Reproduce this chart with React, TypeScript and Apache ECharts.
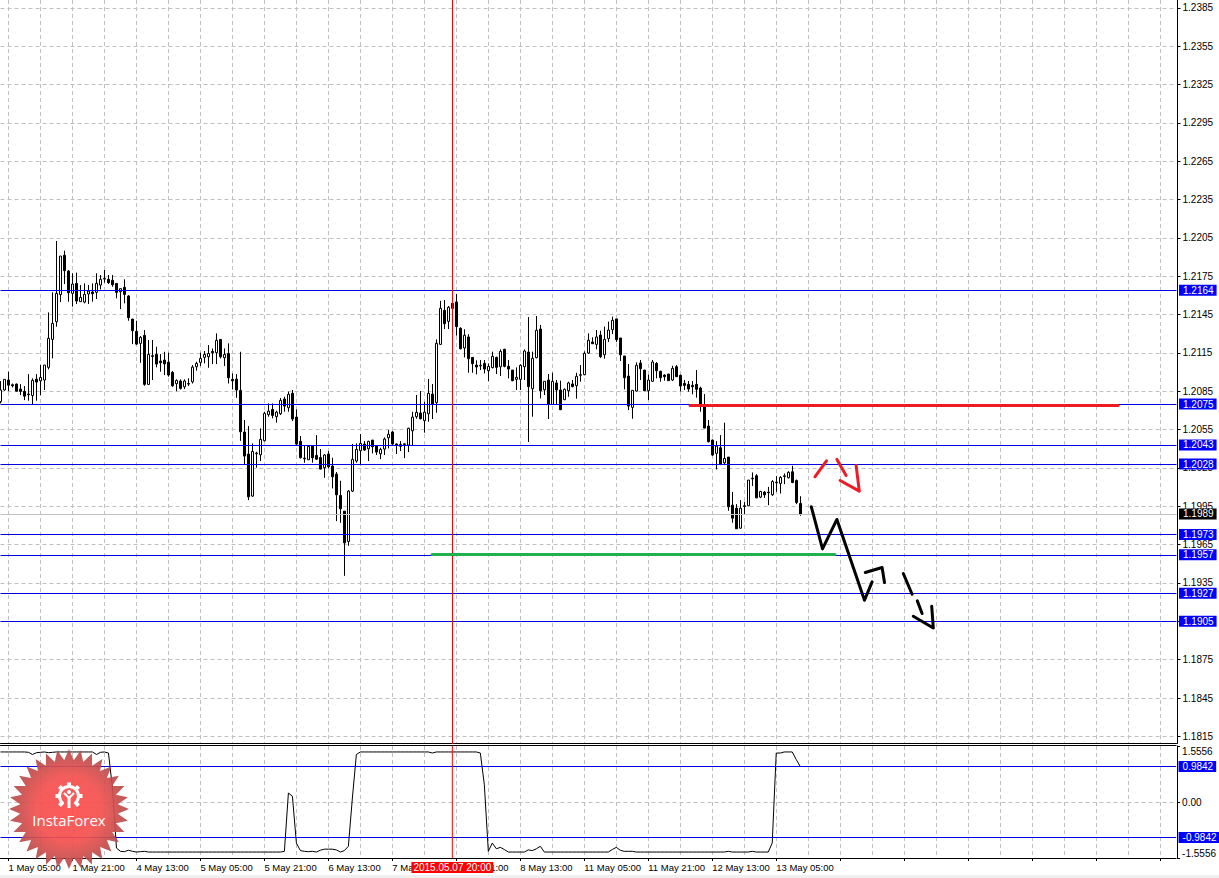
import React, { useEffect, useRef } from "react";
import * as echarts from "echarts";

// [open, close, low, high] of each hourly bar
const candles: number[][] = [
[1.20768,1.20860,1.20755,1.20930],[1.20860,1.20943,1.20854,1.20943],[1.20938,1.20898,1.20851,1.21003],[1.20901,1.20893,1.20880,1.20911],[1.20906,1.20851,1.20849,1.20911],
[1.20867,1.20849,1.20820,1.20906],[1.20849,1.20812,1.20781,1.20891],[1.20828,1.20823,1.20776,1.20984],[1.20817,1.20935,1.20750,1.20951],[1.20945,1.20922,1.20776,1.20984],
[1.20932,1.20958,1.20820,1.21055],[1.20938,1.21055,1.20860,1.21055],[1.21037,1.21264,1.21021,1.21467],[1.21256,1.21381,1.21107,1.21624],[1.21394,1.21616,1.21355,1.22026],
[1.21606,1.21908,1.21548,1.21908],[1.21914,1.21794,1.21689,1.21950],[1.21791,1.21621,1.21551,1.21799],[1.21616,1.21689,1.21512,1.21773],[1.21694,1.21556,1.21533,1.21778],
[1.21551,1.21585,1.21551,1.21681],[1.21548,1.21608,1.21538,1.21694],[1.21611,1.21634,1.21533,1.21681],[1.21627,1.21613,1.21551,1.21694],[1.21624,1.21694,1.21572,1.21773],
[1.21681,1.21726,1.21647,1.21760],[1.21728,1.21734,1.21700,1.21799],[1.21726,1.21700,1.21689,1.21760],[1.21718,1.21684,1.21668,1.21760],[1.21694,1.21624,1.21577,1.21694],
[1.21629,1.21653,1.21493,1.21655],[1.21663,1.21608,1.21538,1.21726],[1.21595,1.21426,1.21402,1.21603],[1.21415,1.21324,1.21219,1.21415],[1.21319,1.21219,1.21212,1.21402],
[1.21225,1.21272,1.21073,1.21282],[1.21287,1.20904,1.20893,1.21329],[1.20904,1.21138,1.20898,1.21251],[1.21128,1.21123,1.20938,1.21251],[1.21138,1.21063,1.21037,1.21198],
[1.21086,1.21073,1.21003,1.21141],[1.21094,1.21065,1.20977,1.21159],[1.21078,1.20977,1.20964,1.21152],[1.20998,1.20893,1.20885,1.21008],[1.20909,1.20935,1.20851,1.20943],
[1.20930,1.20872,1.20864,1.20943],[1.20885,1.20930,1.20867,1.20943],[1.20906,1.20911,1.20891,1.20951],[1.20924,1.21039,1.20911,1.21055],[1.21042,1.21068,1.21011,1.21081],
[1.21076,1.21107,1.21047,1.21152],[1.21115,1.21138,1.21068,1.21165],[1.21120,1.21146,1.21034,1.21212],[1.21162,1.21152,1.21063,1.21185],[1.21152,1.21248,1.21063,1.21303],
[1.21256,1.21120,1.21107,1.21256],[1.21112,1.21138,1.21047,1.21185],[1.21146,1.20956,1.20911,1.21225],[1.20943,1.20932,1.20864,1.20990],[1.20945,1.20860,1.20799,1.20984],
[1.20857,1.20533,1.20462,1.21159],[1.20531,1.20343,1.20280,1.20625],[1.20359,1.20024,1.19998,1.20578],[1.20030,1.20379,1.20024,1.20442],[1.20361,1.20366,1.20252,1.20377],
[1.20353,1.20473,1.20304,1.20560],[1.20463,1.20677,1.20458,1.20690],[1.20667,1.20695,1.20651,1.20755],[1.20708,1.20661,1.20638,1.20755],[1.20651,1.20687,1.20604,1.20698],
[1.20674,1.20779,1.20664,1.20797],[1.20789,1.20734,1.20690,1.20807],[1.20721,1.20826,1.20690,1.20847],[1.20834,1.20633,1.20617,1.20860],[1.20648,1.20437,1.20421,1.20708],
[1.20458,1.20330,1.20325,1.20500],[1.20327,1.20322,1.20291,1.20426],[1.20314,1.20419,1.20312,1.20424],[1.20421,1.20330,1.20291,1.20429],[1.20348,1.20319,1.20312,1.20507],
[1.20332,1.20241,1.20239,1.20398],[1.20252,1.20351,1.20173,1.20359],[1.20359,1.20259,1.20246,1.20382],[1.20265,1.20181,1.20090,1.20330],[1.20202,1.20040,1.19834,1.20218],
[1.20035,1.19931,1.19821,1.20150],[1.19912,1.19664,1.19406,1.19912],[1.19675,1.20069,1.19641,1.20077],[1.20069,1.20317,1.20061,1.20437],[1.20304,1.20395,1.20291,1.20442],
[1.20385,1.20442,1.20272,1.20515],[1.20437,1.20390,1.20385,1.20460],[1.20400,1.20458,1.20304,1.20463],[1.20468,1.20416,1.20364,1.20468],[1.20421,1.20374,1.20351,1.20429],
[1.20361,1.20395,1.20319,1.20408],[1.20398,1.20476,1.20351,1.20489],[1.20486,1.20513,1.20403,1.20546],[1.20531,1.20437,1.20432,1.20539],[1.20437,1.20429,1.20359,1.20442],
[1.20419,1.20434,1.20382,1.20460],[1.20434,1.20439,1.20327,1.20442],[1.20429,1.20560,1.20374,1.20565],[1.20541,1.20648,1.20429,1.20690],[1.20651,1.20685,1.20635,1.20821],
[1.20680,1.20635,1.20630,1.20852],[1.20620,1.20687,1.20526,1.20768],[1.20674,1.20834,1.20612,1.20946],[1.20828,1.20750,1.20633,1.20907],[1.20761,1.21225,1.20682,1.21256],
[1.21217,1.21499,1.21212,1.21557],[1.21483,1.21379,1.21337,1.21564],[1.21397,1.21507,1.21337,1.21517],[1.21538,1.21499,1.21499,1.21538],[1.21549,1.21356,1.21285,1.21611],
[1.21343,1.21183,1.21178,1.21350],[1.21189,1.21288,1.21115,1.21335],[1.21275,1.21105,1.20995,1.21296],[1.21115,1.21066,1.20995,1.21115],[1.21055,1.21040,1.20982,1.21092],
[1.21048,1.21053,1.21016,1.21095],[1.21068,1.21024,1.20990,1.21095],[1.21011,1.21045,1.20930,1.21068],[1.21035,1.21123,1.21029,1.21160],[1.21115,1.21037,1.20985,1.21121],
[1.21042,1.21162,1.20969,1.21178],[1.21178,1.21045,1.21037,1.21183],[1.21045,1.21024,1.20951,1.21095],[1.21016,1.20933,1.20928,1.21016],[1.20943,1.20959,1.20860,1.21037],
[1.20943,1.21053,1.20860,1.21061],[1.21042,1.21165,1.20938,1.21178],[1.21157,1.20886,1.20453,1.21431],[1.20870,1.21108,1.20651,1.21160],[1.21113,1.21327,1.21108,1.21439],
[1.21337,1.20854,1.20794,1.21369],[1.20862,1.20928,1.20821,1.20928],[1.20938,1.20747,1.20633,1.20985],[1.20747,1.20928,1.20742,1.20995],[1.20915,1.20860,1.20747,1.20938],
[1.20860,1.20706,1.20703,1.20933],[1.20784,1.20865,1.20781,1.20873],[1.20854,1.20915,1.20807,1.20925],[1.20907,1.20886,1.20881,1.20938],[1.20894,1.20967,1.20792,1.20995],
[1.20975,1.20980,1.20925,1.21055],[1.20980,1.21147,1.20975,1.21162],[1.21149,1.21249,1.21142,1.21303],[1.21236,1.21222,1.21220,1.21272],[1.21217,1.21275,1.21178,1.21329],
[1.21290,1.21121,1.21110,1.21324],[1.21136,1.21256,1.21105,1.21356],[1.21262,1.21329,1.21236,1.21395],[1.21332,1.21405,1.21298,1.21434],[1.21416,1.21254,1.21236,1.21416],
[1.21267,1.21136,1.21087,1.21267],[1.21126,1.20956,1.20865,1.21126],[1.20969,1.20734,1.20703,1.21063],[1.20724,1.20857,1.20635,1.20860],[1.20852,1.21053,1.20847,1.21076],
[1.21071,1.21027,1.20938,1.21095],[1.21016,1.20854,1.20852,1.21016],[1.20854,1.20938,1.20781,1.20980],[1.20928,1.21079,1.20925,1.21095],[1.21068,1.21011,1.20951,1.21079],
[1.21006,1.20956,1.20925,1.21011],[1.20977,1.20964,1.20933,1.20982],[1.20985,1.20933,1.20930,1.20985],[1.20938,1.21029,1.20930,1.21050],[1.21042,1.20964,1.20962,1.21055],
[1.20975,1.20891,1.20849,1.20980],[1.20912,1.20896,1.20860,1.20938],[1.20904,1.20868,1.20847,1.20930],[1.20896,1.20886,1.20826,1.20930],[1.20904,1.20865,1.20800,1.21016],
[1.20875,1.20750,1.20690,1.20886],[1.20734,1.20562,1.20560,1.20828],[1.20578,1.20455,1.20450,1.20625],[1.20468,1.20351,1.20343,1.20473],[1.20364,1.20421,1.20238,1.20460],
[1.20408,1.20280,1.20272,1.20507],[1.20290,1.20324,1.20272,1.20604],[1.20335,1.19946,1.19915,1.20335],[1.19959,1.19857,1.19821,1.20063],[1.19935,1.19774,1.19774,1.19967],
[1.19779,1.19935,1.19774,1.19998],[1.19954,1.19949,1.19888,1.19985],[1.19954,1.20155,1.19951,1.20155],[1.20170,1.20165,1.20108,1.20215],[1.20189,1.20016,1.20014,1.20202],
[1.20022,1.20066,1.20014,1.20071],[1.20061,1.20040,1.20016,1.20069],[1.20061,1.20056,1.19959,1.20102],[1.20040,1.20144,1.20032,1.20155],[1.20134,1.20139,1.20063,1.20186],
[1.20129,1.20176,1.20050,1.20186],[1.20183,1.20189,1.20123,1.20207],[1.20173,1.20215,1.20168,1.20225],[1.20220,1.20136,1.20131,1.20267],[1.20152,1.19980,1.19967,1.20160],
[1.19972,1.19890,1.19876,1.20029],
];

// Fisher-style oscillator of the lower window, one value per bar
const oscillator: number[] = [
1.39,1.39,1.39,1.39,1.39,1.39,1.39,1.38,1.32,1.37,
1.38,1.39,1.37,1.38,1.39,1.39,1.39,1.39,1.39,1.39,
1.39,1.39,1.39,1.39,1.32,1.38,1.39,1.36,0.39,-1.28,
-1.37,-1.38,-1.34,-1.37,-1.39,-1.38,-1.37,-1.39,-1.39,-1.39,
-1.39,-1.39,-1.39,-1.39,-1.39,-1.39,-1.39,-1.39,-1.39,-1.39,
-1.39,-1.39,-1.39,-1.39,-1.39,-1.39,-1.39,-1.39,-1.39,-1.39,
-1.39,-1.39,-1.39,-1.39,-1.39,-1.39,-1.39,-1.39,-1.39,-1.39,
-1.39,-1.37,0.25,0.16,-1.14,-1.35,-1.37,-1.38,-1.37,-1.39,
-1.34,-1.31,-1.31,-1.31,-1.33,-1.39,-1.35,-1.23,0.11,1.32,
1.39,1.39,1.39,1.39,1.39,1.39,1.39,1.39,1.39,1.39,
1.39,1.39,1.39,1.39,1.39,1.39,1.39,1.39,1.36,1.39,
1.39,1.39,1.39,1.39,1.39,1.39,1.39,1.39,1.39,1.39,
1.36,0.48,-1.37,-1.14,-1.30,-1.26,-1.32,-1.39,-1.39,-1.39,
-1.39,-1.39,-1.33,-1.35,-1.30,-1.23,-1.39,-1.39,-1.39,-1.39,
-1.39,-1.39,-1.39,-1.39,-1.39,-1.39,-1.39,-1.39,-1.39,-1.39,
-1.39,-1.39,-1.39,-1.32,-1.26,-1.34,-1.37,-1.37,-1.37,-1.39,
-1.39,-1.39,-1.39,-1.39,-1.39,-1.39,-1.39,-1.39,-1.39,-1.39,
-1.39,-1.39,-1.39,-1.39,-1.39,-1.39,-1.39,-1.39,-1.39,-1.39,
-1.39,-1.39,-1.37,-1.39,-1.39,-1.39,-1.39,-1.39,-1.37,-1.39,
-1.39,-1.39,-1.39,-1.14,1.36,1.36,1.39,1.39,1.39,1.18,
0.99,
];

const timeLabels = ["1 May 05:00","1 May 21:00","4 May 13:00","5 May 05:00","5 May 21:00","6 May 13:00","7 May 05:00","7 May 21:00","8 May 13:00","11 May 05:00","11 May 21:00","12 May 13:00","13 May 05:00"];
const priceTicks = [1.1815,1.1845,1.1875,1.1905,1.1935,1.1965,1.1995,1.2025,1.2055,1.2085,1.2115,1.2145,1.2175,1.2205,1.2235,1.2265,1.2295,1.2325,1.2355,1.2385];
const oscTicks = [-1.5556, 0, 1.5556];
const blueLevels = [1.2164,1.2075,1.2043,1.2028,1.1973,1.1957,1.1927,1.1905];
const oscLevels = [0.9842,-0.9842];
const lastPrice = 1.1989;
const crosshairBar = 113;
const crosshairLabel = "2015.05.07 20:00";

const redLevel = [[172.4,1.20739],[279.4,1.20739]];
const greenLevel = [[107.9,1.19573],[208.6,1.19573]];
const blackPath: number[][][] = [
  [[202.7,1.19946],[205.5,1.19617],[209.1,1.19847],[216,1.19215],[217.9,1.19359]],
  [[216.2,1.19432],[220.4,1.19471],[221,1.19353]],
  [[225.7,1.19424],[227.9,1.19262]],
  [[229.2,1.1921],[230.4,1.19111]],
  [[228.2,1.1909],[233.2,1.18998],[232.8,1.19168]],
];
const redPath: number[][][] = [
  [[203.6,1.20181],[206.5,1.20306]],
  [[209.1,1.20317],[211.4,1.20191]],
  [[209.9,1.20152],[214.7,1.20069],[213.9,1.2027]],
];

const barCount = 295;
const firstTick = 2;
const priceMin = 1.18094;
const priceMax = 1.239115;
const oscMax = 1.5556;
const categories = Array.from({ length: barCount }, (_, i) => {
  const k = (i - firstTick) / 16;
  return Number.isInteger(k) && timeLabels[k] ? timeLabels[k] : "";
});

const FONT = "Liberation Sans";
const GRID = { color: "#c0c0c0", width: 1, type: [4, 3] as number[] };

function levelLine(v: number, digits = 4, bg = "#0000ff", lineColor = "#0000e0") {
  return {
    yAxis: v,
    lineStyle: { color: lineColor, width: 1, type: "solid" },
    label: {
      show: true,
      position: "end",
      distance: 2.5,
      formatter: v.toFixed(digits),
      color: "#fff",
      backgroundColor: bg,
      fontFamily: FONT,
      fontSize: 10,
      lineHeight: 11,
      padding: [0, 3, 0, 4],
    },
  };
}

function starPoints(cx: number, cy: number, rOut: number, rIn: number, n: number) {
  const pts: number[][] = [];
  for (let i = 0; i < n * 2; i++) {
    const r = i % 2 ? rIn : rOut;
    const a = -Math.PI / 2 + (i * Math.PI) / n;
    pts.push([cx + r * Math.cos(a), cy + r * Math.sin(a)]);
  }
  return pts;
}

function badge() {
  const cx = 69, cy = 809, gx = 69, gy = 796;
  const teeth = Array.from({ length: 8 }, (_, k) => {
    const a = (k * Math.PI) / 4;
    return {
      type: "rect", x: gx, y: gy, rotation: a,
      shape: { x: -2, y: -13.5, width: 4, height: 5 },
      style: { fill: "#fff" }, z: 41,
    };
  });
  return [
    {
      type: "polygon",
      shape: { points: starPoints(cx, cy, 60, 49, 32) },
      style: {
        fill: new echarts.graphic.RadialGradient(0.5, 0.5, 0.5, [
          { offset: 0, color: "#ff4a4a" },
          { offset: 0.55, color: "#f2504e" },
          { offset: 1, color: "#b04c4c" },
        ]),
        opacity: 0.92,
      },
      z: 40,
    },
    { type: "arc", shape: { cx: gx, cy: gy, r: 9.5, startAngle: Math.PI * 0.72, endAngle: Math.PI * 0.28, clockwise: true }, style: { stroke: "#fff", lineWidth: 3, fill: "none" }, z: 41 },
    ...teeth.filter((_, k) => k !== 4),
    { type: "polyline", shape: { points: [[gx - 5, gy - 3], [gx, gy + 2], [gx + 5, gy - 3]] }, style: { stroke: "#fff", lineWidth: 2.2, fill: "none" }, z: 41 },
    { type: "circle", shape: { cx: gx, cy: gy - 4, r: 2 }, style: { fill: "#fff" }, z: 41 },
    { type: "rect", shape: { x: gx - 1.5, y: gy + 1, width: 3, height: 11 }, style: { fill: "#fff" }, z: 41 },
    {
      type: "text", x: cx, y: 820,
      style: { text: "InstaForex", fill: "#fff", font: "15px 'Open Sans'", align: "center", verticalAlign: "middle" },
      z: 41,
    },
    { type: "rect", shape: { x: 0, y: 875, width: 1219, height: 3 }, style: { fill: "#f0f0f0" }, z: 1 },
  ];
}

function pathSeries(name: string, data: number[][], color: string, width: number, xAxisIndex = 1, yAxisIndex = 0) {
  return {
    name, type: "line", xAxisIndex, yAxisIndex, data, symbol: "none", silent: true, z: 6,
    lineStyle: { color, width, cap: "round", join: "round" },
  };
}

export default function App() {
  const ref = useRef<HTMLDivElement>(null);
  useEffect(() => {
    const chart = echarts.init(ref.current!, undefined, { renderer: "svg" });
    // bars sit on grid points 4 px apart; the half pixel makes 1 px lines crisp
    const left = 0.5, width = (barCount - 1) * 4;
    const splitX = { show: true, interval: (i: number) => (i - firstTick) % 8 === 0, lineStyle: GRID };
    chart.setOption({
      animation: false,
      backgroundColor: "#fff",
      textStyle: { fontFamily: FONT },
      grid: [
        { left, width, top: 0, height: 743.5 },
        { left, width, top: 746, height: 112 },
      ],
      xAxis: [
        { type: "category", gridIndex: 0, data: categories, boundaryGap: false, axisLine: { show: true, onZero: false, lineStyle: { color: "#000" } }, axisTick: { show: false }, axisLabel: { show: false }, splitLine: splitX },
        { type: "value", gridIndex: 0, min: 0, max: barCount - 1, show: false },
        {
          type: "category", gridIndex: 1, data: categories, boundaryGap: false,
          axisLine: { show: true, onZero: false, lineStyle: { color: "#000" } },
          axisTick: { show: true, length: 3, interval: (i: number) => (i - firstTick) % 16 === 0, lineStyle: { color: "#000" } },
          axisLabel: { show: true, interval: (i: number) => (i - firstTick) % 16 === 0, align: "left", margin: 4, color: "#000", fontFamily: FONT, fontSize: 9.5, hideOverlap: false },
          splitLine: splitX,
        },
        { type: "value", gridIndex: 1, position: "top", offset: 1, min: 0, max: barCount - 1, axisLine: { show: true, onZero: false, lineStyle: { color: "#000" } }, axisTick: { show: false }, axisLabel: { show: false }, splitLine: { show: false } },
      ],
      yAxis: [
        {
          type: "value", gridIndex: 0, position: "right", offset: 1, min: priceMin, max: priceMax,
          axisLine: { show: true, onZero: false, lineStyle: { color: "#000" } },
          axisTick: { show: true, length: 3, customValues: priceTicks, lineStyle: { color: "#000" } },
          axisLabel: { show: true, customValues: priceTicks, margin: 5, formatter: (v: number) => v.toFixed(4), color: "#000", fontFamily: FONT, fontSize: 10 },
          splitLine: { show: true, lineStyle: GRID },
        },
        {
          type: "value", gridIndex: 1, position: "right", offset: 1, min: -oscMax, max: oscMax,
          axisLine: { show: true, onZero: false, lineStyle: { color: "#000" } },
          axisTick: { show: true, length: 3, customValues: oscTicks, lineStyle: { color: "#000" } },
          axisLabel: {
            show: true, customValues: oscTicks, margin: 5, color: "#000", fontFamily: FONT, fontSize: 10,
            verticalAlignMaxLabel: "top", verticalAlignMinLabel: "bottom",
            formatter: (v: number) => (v === 0 ? "0.00" : v.toFixed(4)),
          },
          splitLine: { show: true, showMinLine: false, showMaxLine: false, lineStyle: GRID },
        },
      ],
      series: [
        {
          name: "EURUSD H1", type: "candlestick", xAxisIndex: 0, yAxisIndex: 0, barWidth: 2, z: 3, silent: true,
          data: candles,
          itemStyle: { color: "#fff", color0: "#000", borderColor: "#000", borderColor0: "#000", borderWidth: 1 },
        },
        {
          name: "levels", type: "line", xAxisIndex: 1, yAxisIndex: 0, data: [], z: 5,
          markLine: {
            silent: true, symbol: "none", animation: false, precision: 6,
            data: [
              levelLine(lastPrice, 4, "#000", "#c0c0c0"),
              ...blueLevels.map((v) => levelLine(v)),
            ],
          },
        },
        pathSeries("crosshair", [[crosshairBar, priceMin], [crosshairBar, priceMax]], "#ff0000", 1),
        pathSeries("red level", redLevel, "#ed1c24", 3),
        pathSeries("green level", greenLevel, "#22b14c", 3),
        ...blackPath.map((d, i) => pathSeries("black " + i, d, "#000", 3)),
        ...redPath.map((d, i) => pathSeries("red " + i, d, "#ed1c24", 3)),
        {
          name: "oscillator", type: "line", xAxisIndex: 2, yAxisIndex: 1, data: oscillator, symbol: "none", silent: true, z: 3,
          lineStyle: { color: "#000", width: 1 },
        },
        pathSeries("osc crosshair", [[crosshairBar, -oscMax], [crosshairBar, oscMax]], "#ff0000", 1, 3, 1),
        {
          name: "osc levels", type: "line", xAxisIndex: 3, yAxisIndex: 1, data: [], z: 5,
          markLine: {
            silent: true, symbol: "none", animation: false, precision: 6,
            data: [
              ...oscLevels.map((v) => levelLine(v)),
              {
                xAxis: crosshairBar,
                lineStyle: { color: "rgba(255,0,0,0)", width: 1, type: "solid" },
                label: { show: true, position: "start", distance: 4, formatter: crosshairLabel, color: "#fff", backgroundColor: "#ff0000", fontFamily: FONT, fontSize: 10, lineHeight: 11, padding: [0, 2, 0, 2] },
              },
            ],
          },
        },
      ],
      graphic: { elements: badge() },
    });
    return () => chart.dispose();
  }, []);
  return <div ref={ref} style={{ position: "fixed", left: 0, top: 0, width: 1219, height: 878, background: "#fff" }} />;
}
